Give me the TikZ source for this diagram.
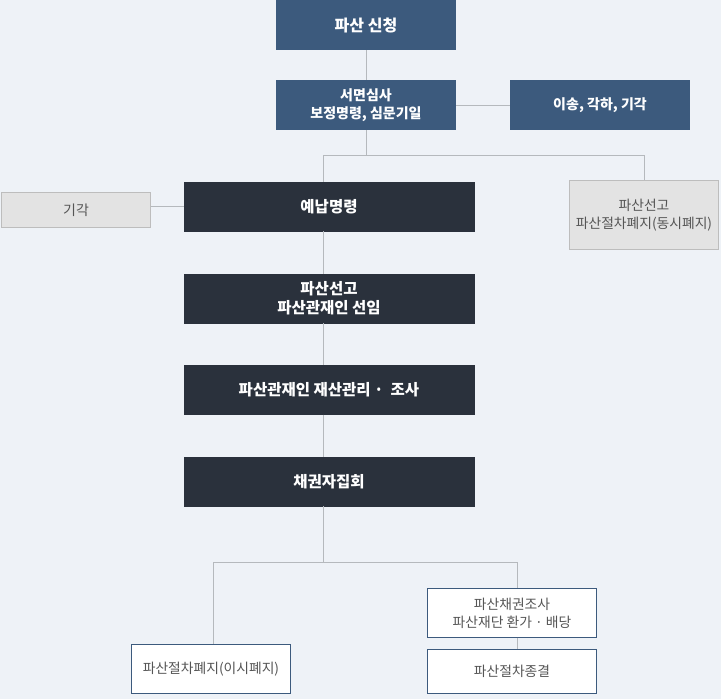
\documentclass[tikz,border=0pt]{standalone}
\usepackage{fontspec}
\setmainfont{Noto Sans CJK KR}
\usetikzlibrary{positioning}
\definecolor{bgcol}{HTML}{EEF2F7}
\definecolor{bluebox}{HTML}{3C5A7D}
\definecolor{darkbox}{HTML}{2A313C}
\definecolor{greyfill}{HTML}{E3E3E3}
\definecolor{greyline}{HTML}{BDBDBD}
\definecolor{linkcol}{HTML}{B5B9BD}
\definecolor{softtext}{HTML}{555555}

\begin{document}
\begin{tikzpicture}[
    x=1pt, y=-1pt,
    node distance=42.3pt,
    base/.style={
        rectangle,
        inner sep=0pt,
        align=center,
        font=\fontsize{13.8}{18}\selectfont
    },
    bluestep/.style={
        base,
        fill=bluebox,
        text=white,
        font=\bfseries\fontsize{14}{18}\selectfont,
        minimum width=180pt,
        minimum height=50pt
    },
    darkstep/.style={
        base,
        fill=darkbox,
        draw=darkbox,
        text=white,
        font=\bfseries\fontsize{15.5}{19}\selectfont,
        minimum width=290pt,
        minimum height=49pt
    },
    greyend/.style={
        base,
        fill=greyfill,
        draw=greyline,
        text=softtext
    },
    whiteend/.style={
        base,
        fill=white,
        draw=bluebox,
        text=softtext,
        minimum width=169pt
    },
    link/.style={draw=linkcol, line width=0.8pt}
]
\fill[bgcol] (0,0) rectangle (721,699);
\useasboundingbox (0,0) rectangle (721,699);

% top of the flow
\node (apply) [bluestep, font=\bfseries\fontsize{16}{18}\selectfont] at (366,25) {파산 신청};
\node (review) [bluestep] at (366,105) {서면심사\\보정명령, 심문기일};
\node (transfer) [bluestep] at (600,105) {이송, 각하, 기각};

% main column
\node (deposit) [darkstep] at (329,206.5) {예납명령};
\node (declare) [darkstep, below=of deposit] {파산선고\\파산관재인 선임};
\node (manage) [darkstep, below=of declare] {파산관재인 재산관리 ·\ \ 조사};
\node (meeting) [darkstep, below=of manage] {채권자집회};

% side results
\node (reject) [greyend, minimum width=149pt, minimum height=35pt, font=\fontsize{14}{18}\selectfont] at (76,210) {기각};
\node (simul) [greyend, minimum width=149pt, minimum height=69pt] at (644,215) {파산선고\\파산절차폐지(동시폐지)};

% bottom results
\node (abolish) [whiteend, minimum width=159pt, minimum height=49pt] at (211,669) {파산절차폐지(이시폐지)};
\node (claims) [whiteend, minimum height=49pt] at (512,613) {파산채권조사\\파산재단 환가 · 배당};
\node (finish) [whiteend, minimum height=44pt] at (512,671) {파산절차종결};

\coordinate (spine) at (323,155);
\coordinate (fork) at (323,562);
\coordinate (leftend) at (213,562);
\coordinate (rightend) at (517,562);

\draw [link] (apply) -- (review);
\draw [link] (review) -- (transfer);
\draw [link] (review.south) -- (review.south |- spine);
\draw [link] (deposit.north -| spine) -- (spine) -| (simul.north);
\draw [link] (deposit.west) -- (deposit.west -| reject.east);
\draw [link] (deposit.south -| spine) -- (declare.north -| spine);
\draw [link] (declare.south -| spine) -- (manage.north -| spine);
\draw [link] (manage.south -| spine) -- (meeting.north -| spine);
\draw [link] (meeting.south -| spine) -- (fork);
\draw [link] (leftend) -- (rightend);
\draw [link] (leftend) -- (leftend |- abolish.north);
\draw [link] (rightend) -- (rightend |- claims.north);
\draw [link] (claims.south -| rightend) -- (finish.north -| rightend);

\end{tikzpicture}
\end{document}
